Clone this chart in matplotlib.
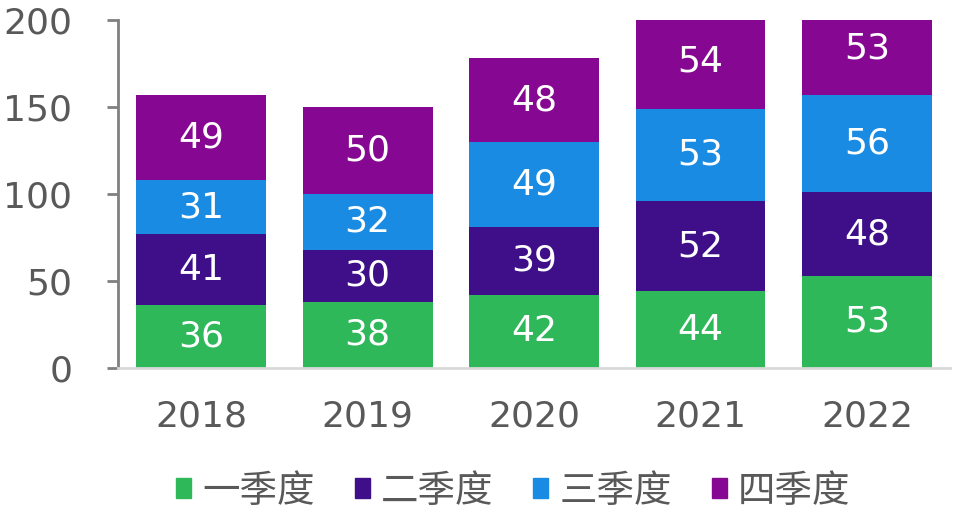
import numpy as np
import matplotlib.pyplot as plt
from matplotlib.patches import Patch

years = ['2018', '2019', '2020', '2021', '2022']
q1 = [36, 38, 42, 44, 53]
q2 = [41, 30, 39, 52, 48]
q3 = [31, 32, 49, 53, 56]
q4 = [49, 50, 48, 54, 53]
series = [q1, q2, q3, q4]
names = ['一季度', '二季度', '三季度', '四季度']
colors = ['#2EB85A', '#3E0F88', '#1A8BE3', '#860792']

plt.rcParams['font.family'] = ['DejaVu Sans', 'Noto Sans CJK SC']

fig = plt.figure(figsize=(9.56, 5.18), dpi=100)
ax = fig.add_axes([0.1234, 0.2896, 0.8706, 0.6718])

x = np.arange(len(years))
bottom = np.zeros(len(years))
for vals, c in zip(series, colors):
    vals = np.array(vals)
    ax.bar(x, vals, 0.78, bottom=bottom, color=c)
    for xi, b, v in zip(x, bottom, vals):
        ax.text(xi, b + v / 2, str(v), ha='center', va='center',
                color='white', fontsize=26)
    bottom += vals

ax.set_xlim(-0.5, 4.5)
ax.set_ylim(0, 200)
ax.set_yticks([0, 50, 100, 150, 200])
ax.set_xticks(x)
ax.set_xticklabels(years)
ax.tick_params(axis='y', length=8, width=2, color='#808080', labelsize=26,
               labelcolor='#595959', pad=25)
ax.tick_params(axis='x', length=0, labelsize=26, labelcolor='#595959', pad=23)
for s in ['top', 'right']:
    ax.spines[s].set_visible(False)
ax.spines['left'].set_color('#808080')
ax.spines['left'].set_linewidth(2)
ax.spines['bottom'].set_color('#D9D9D9')
ax.spines['bottom'].set_linewidth(2)

handles = [Patch(color=c, label=n) for c, n in zip(colors, names)]
fig.legend(handles=handles, loc='center', bbox_to_anchor=(0.537, 0.052),
           ncol=4, frameon=False, handlelength=0.4, handleheight=0.45,
           handletextpad=0.29, columnspacing=1.07,
           prop={'family': ['Noto Sans CJK SC'], 'size': 27},
           labelcolor='#595959')

fig.savefig('out.png', dpi=100)
